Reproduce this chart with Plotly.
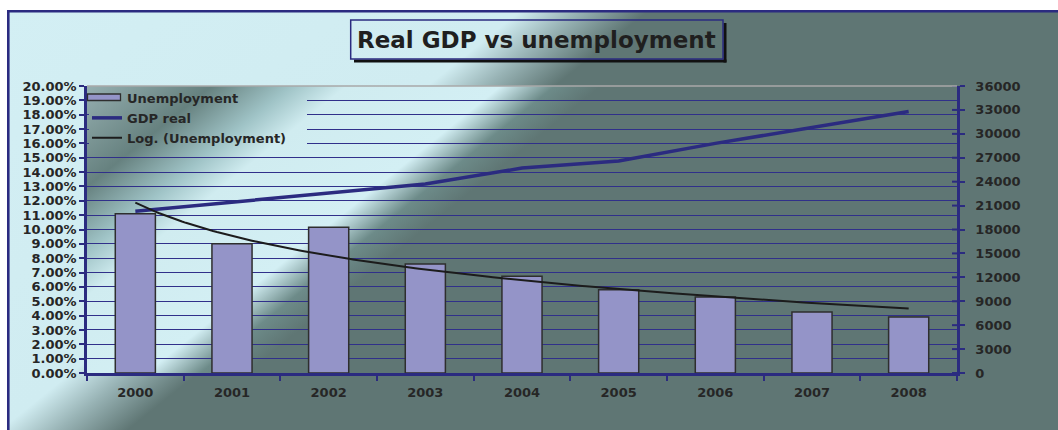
import base64
import numpy as np
import plotly.graph_objects as go

# ---------------- data ----------------
years = ["2000", "2001", "2002", "2003", "2004", "2005", "2006", "2007", "2008"]
unemployment_pct = [11.1, 9.0, 10.15, 7.6, 6.75, 5.8, 5.3, 4.25, 3.9]
gdp_real = [20300, 21400, 22500, 23700, 25700, 26600, 28800, 30800, 32800]
left_range = [0, 0.20]
right_range = [0, 36000]
right_dtick = 3000

# ---------------- geometry / style ----------------
W, H = 1058, 430
ML, MR, MT, MB = 87, 101, 86, 57
PW = W - ML - MR
PH = H - MT - MB

NAVY = "#2b2b80"
GRID = "#30308a"
TXT = "#262626"
FONT = "DejaVu Sans"
BAR_FILL = "#9494c8"
BAR_LINE = "#2e2e2e"


def px_x(px):
    return (px - ML) / PW


def px_y(py):
    return (H - MB - py) / PH


def unit(v):
    n = (v[0] ** 2 + v[1] ** 2) ** 0.5
    return (v[0] / n, v[1] / n)


def grad_svg(w, h, ox, oy, direction, stops, rect=None, border=False):
    dx, dy = unit(direction)
    t0, t1 = stops[0][0], stops[-1][0]
    x1, y1 = t0 * dx - ox, t0 * dy - oy
    x2, y2 = t1 * dx - ox, t1 * dy - oy
    st = "".join(
        f'<stop offset="{(t - t0) / (t1 - t0):.4f}" stop-color="{c}"/>' for t, c in stops
    )
    if rect is None:
        rect = (0, 0, w, h)
    rx, ry, rw, rh = rect
    body = (
        f'<svg xmlns="http://www.w3.org/2000/svg" width="{w}" height="{h}" '
        f'viewBox="0 0 {w} {h}" preserveAspectRatio="none">'
        f'<defs><linearGradient id="g" gradientUnits="userSpaceOnUse" '
        f'x1="{x1:.2f}" y1="{y1:.2f}" x2="{x2:.2f}" y2="{y2:.2f}">{st}</linearGradient></defs>'
        f'<rect x="{rx}" y="{ry}" width="{rw}" height="{rh}" fill="url(#g)"/>'
    )
    if border:
        body += (
            f'<line x1="1.3" y1="0" x2="1.3" y2="{h}" stroke="{NAVY}" stroke-width="2.6"/>'
            f'<line x1="0" y1="1.3" x2="{w}" y2="1.3" stroke="{NAVY}" stroke-width="2.6"/>'
        )
    body += "</svg>"
    return "data:image/svg+xml;base64," + base64.b64encode(body.encode()).decode()


outer_stops = [(0, "#d3eff4"), (335, "#d0ecf1"), (372, "#98b3b5"), (415, "#5f7674"), (900, "#5f7674")]
plot_stops = [
    (100, "#a3bcbe"), (200, "#66817f"), (250, "#9fc3c6"), (285, "#d0ecf0"),
    (382, "#d3eff4"), (416, "#6d8b89"), (445, "#5f7674"), (1200, "#5f7674"),
]
outer_dir = (0.627, 0.779)
plot_dir = (0.629, 0.777)

outer_img = grad_svg(W - 7, H - 10, 7, 10, outer_dir, outer_stops, border=True)
plot_img = grad_svg(PW, PH, ML, MT, plot_dir, plot_stops)
legend_cover = grad_svg(PW, PH, ML, MT, plot_dir, plot_stops, rect=(2, 0, 218, 64))

# ---------------- trend (log fit of the unemployment data) ----------------
u = np.array(unemployment_pct) / 100.0
idx = np.arange(1, len(years) + 1)
b, a = np.polyfit(np.log(idx), u, 1)
xs = np.linspace(1, len(years), 200)
trend = a + b * np.log(xs)

fig = go.Figure()
fig.add_trace(go.Bar(
    x=years, y=u, name="Unemployment", showlegend=False,
    marker=dict(color=BAR_FILL, line=dict(color=BAR_LINE, width=1.5)),
    xaxis="x", yaxis="y",
))
# legend entry for the bars (swatch drawn as a shape below)
fig.add_trace(go.Scatter(
    x=[None], y=[None], name="Unemployment", mode="lines",
    line=dict(color="rgba(0,0,0,0)", width=0), xaxis="x3", yaxis="y",
))
fig.add_trace(go.Scatter(
    x=years, y=gdp_real, name="GDP real", mode="lines",
    line=dict(color=NAVY, width=3.5), xaxis="x", yaxis="y2",
))
fig.add_trace(go.Scatter(
    x=xs - 1, y=trend, name="Log. (Unemployment)", mode="lines",
    line=dict(color="#1c1c1c", width=2), xaxis="x3", yaxis="y",
))

tickfont = dict(family=FONT, size=13, color=TXT, weight="bold")

right_ticks = list(range(right_range[0], right_range[1] + 1, right_dtick))
shapes = []
for v in right_ticks:
    shapes.append(dict(type="line", xref="paper", yref="y2", xsizemode="pixel", xanchor=1,
                       x0=-5, x1=0, y0=v, y1=v, line=dict(color=NAVY, width=2)))
shapes.append(dict(type="line", xref="paper", yref="paper", x0=0, x1=1, y0=1, y1=1,
                   line=dict(color="#a8a8a8", width=1.5)))
# legend swatch for bars
shapes.append(dict(type="rect", xref="paper", yref="paper", x0=px_x(87.5), x1=px_x(120.5),
                   y0=px_y(100.5), y1=px_y(94), fillcolor=BAR_FILL,
                   line=dict(color=BAR_LINE, width=1.3), layer="above"))
tx0, tx1 = px_x(350.7), px_x(723)
ty0, ty1 = px_y(59), px_y(20)
shapes.append(dict(type="line", xref="paper", yref="paper", x0=px_x(354), x1=px_x(726.5),
                   y0=px_y(61), y1=px_y(61), line=dict(color="#111111", width=3)))
shapes.append(dict(type="line", xref="paper", yref="paper", x0=px_x(725), x1=px_x(725),
                   y0=px_y(23), y1=px_y(62.5), line=dict(color="#111111", width=3)))
shapes.append(dict(type="rect", xref="paper", yref="paper", x0=tx0, x1=tx1, y0=ty0, y1=ty1,
                   line=dict(color=NAVY, width=1.5), fillcolor="rgba(0,0,0,0)"))

fig.update_layout(
    width=W, height=H,
    margin=dict(l=ML, r=MR, t=MT, b=MB, pad=0),
    paper_bgcolor="white", plot_bgcolor="rgba(0,0,0,0)",
    bargap=0.585,
    showlegend=True,
    legend=dict(x=0, y=px_y(83), xanchor="left", yanchor="top", bgcolor="rgba(0,0,0,0)",
                font=dict(family=FONT, size=13, color=TXT, weight="bold"),
                itemwidth=30, tracegroupgap=0, traceorder="normal"),
    xaxis=dict(type="category", tickson="boundaries", ticks="outside", ticklen=5, tickwidth=2,
               tickcolor=NAVY, showline=True, linecolor=NAVY, linewidth=2.5, showgrid=False,
               tickfont=tickfont, ticklabelstandoff=6, automargin=False),
    xaxis3=dict(overlaying="x", range=[-0.5, len(years) - 0.5], visible=False, showgrid=False),
    yaxis=dict(range=left_range, dtick=0.01, tick0=0, tickformat=".2%", ticks="outside",
               ticklen=5, tickwidth=2, tickcolor=NAVY, showline=True, linecolor=NAVY,
               linewidth=2.5, showgrid=True, gridcolor=GRID, gridwidth=1.3, zeroline=False,
               tickfont=tickfont, ticklabelstandoff=0, automargin=False),
    yaxis2=dict(overlaying="y", side="right", anchor="x", range=right_range, dtick=right_dtick,
                tick0=0, tickformat="d", ticks="outside", ticklen=5, tickwidth=2, tickcolor=NAVY,
                showline=True, linecolor=NAVY, linewidth=2.5, showgrid=False, zeroline=False,
                tickfont=tickfont, ticklabelstandoff=8, automargin=False),
    shapes=shapes,
    images=[
        dict(source=outer_img, xref="paper", yref="paper", x=px_x(7), y=px_y(10),
             sizex=(W - 7) / PW, sizey=(H - 10) / PH, xanchor="left", yanchor="top",
             sizing="stretch", layer="below"),
        dict(source=plot_img, xref="paper", yref="paper", x=0, y=1, sizex=1, sizey=1,
             xanchor="left", yanchor="top", sizing="stretch", layer="below"),
        dict(source=legend_cover, xref="paper", yref="paper", x=0, y=1, sizex=1, sizey=1,
             xanchor="left", yanchor="top", sizing="stretch", layer="above"),
    ],
    annotations=[
        dict(text="Real GDP vs unemployment", xref="paper", yref="paper",
             x=(tx0 + tx1) / 2, y=(ty0 + ty1) / 2, xanchor="center", yanchor="middle",
             showarrow=False, font=dict(family=FONT, size=23, color="#1f1f1f", weight="bold")),
    ],
)

fig.write_html(
    "out.html",
    config={"displayModeBar": False},
    post_script="document.body.style.margin='0';document.body.style.overflow='hidden';",
)
